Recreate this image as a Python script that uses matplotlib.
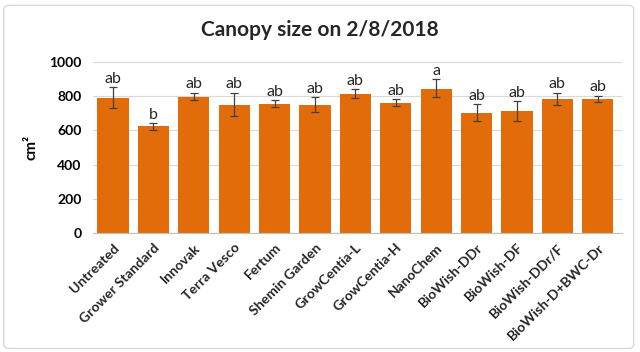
import matplotlib.pyplot as plt
from matplotlib.patches import FancyBboxPatch
import numpy as np

plt.rcParams['font.family'] = ['Lato', 'DejaVu Sans']

treatments = ['Untreated', 'Grower Standard', 'Innovak', 'Terra Vesco', 'Fertum',
              'Shemin Garden', 'GrowCentia-L', 'GrowCentia-H', 'NanoChem',
              'BioWish-DDr', 'BioWish-DF', 'BioWish-DDr/F', 'BioWish-D+BWC-Dr']
canopy = [792, 624, 795, 751, 754, 751, 815, 760, 844, 702, 712, 784, 784]
err_hi = [854, 641, 821, 821, 778, 795, 842, 782, 899, 753, 772, 821, 803]
err_lo = [733, 605, 776, 682, 735, 710, 792, 745, 795, 657, 653, 749, 767]
letters = ['ab', 'b', 'ab', 'ab', 'ab', 'ab', 'ab', 'ab', 'a', 'ab', 'ab', 'ab', 'ab']

canopy = np.array(canopy)
yerr = [canopy - np.array(err_lo), np.array(err_hi) - canopy]

fig = plt.figure(figsize=(6.4, 3.52), dpi=100)
# light rounded frame around the whole chart
fig.patches.append(FancyBboxPatch((0.006, 0.01), 0.984, 0.975, boxstyle='round,pad=0,rounding_size=0.01',
                                  transform=fig.transFigure, facecolor='none',
                                  edgecolor='#d9d9d9', linewidth=1, zorder=-1))
ax = fig.add_axes([0.145, 0.338, 0.827, 0.486])
x = np.arange(len(treatments))
ax.bar(x, canopy, width=0.77, color='#E36C0A', zorder=2)
ax.errorbar(x, canopy, yerr=yerr, fmt='none', ecolor='#404040', elinewidth=0.9,
            capsize=3, capthick=0.9, zorder=3)
for xi, top, lab in zip(x, err_hi, letters):
    ax.text(xi, top + 8, lab, ha='center', va='bottom', fontsize=11.5, color='#262626')

ax.set_xlim(-0.5, len(treatments) - 0.4)
ax.set_ylim(0, 1000)
ax.set_yticks(range(0, 1001, 200))
ax.yaxis.grid(True, color='#d9d9d9', linewidth=0.8, zorder=0)
for s in ['top', 'right', 'left']:
    ax.spines[s].set_visible(False)
ax.spines['bottom'].set_color('#bfbfbf')
ax.tick_params(axis='both', length=0)
ax.tick_params(axis='y', labelsize=10, pad=8)
for t in ax.get_yticklabels():
    t.set_fontweight('bold')
ax.set_xticks(x)
ax.set_xticklabels(treatments, rotation=45, ha='right', rotation_mode='anchor',
                   fontsize=10, fontweight='bold', color='#262626')
ax.tick_params(axis='x', pad=6)
ax.set_ylabel('cm²', fontsize=11, fontweight='bold', labelpad=8)
fig.text(0.5, 0.915, 'Canopy size on 2/8/2018', ha='center', va='center',
         fontsize=15, fontweight='bold', color='#262626')

fig.savefig('out.png', dpi=100)
